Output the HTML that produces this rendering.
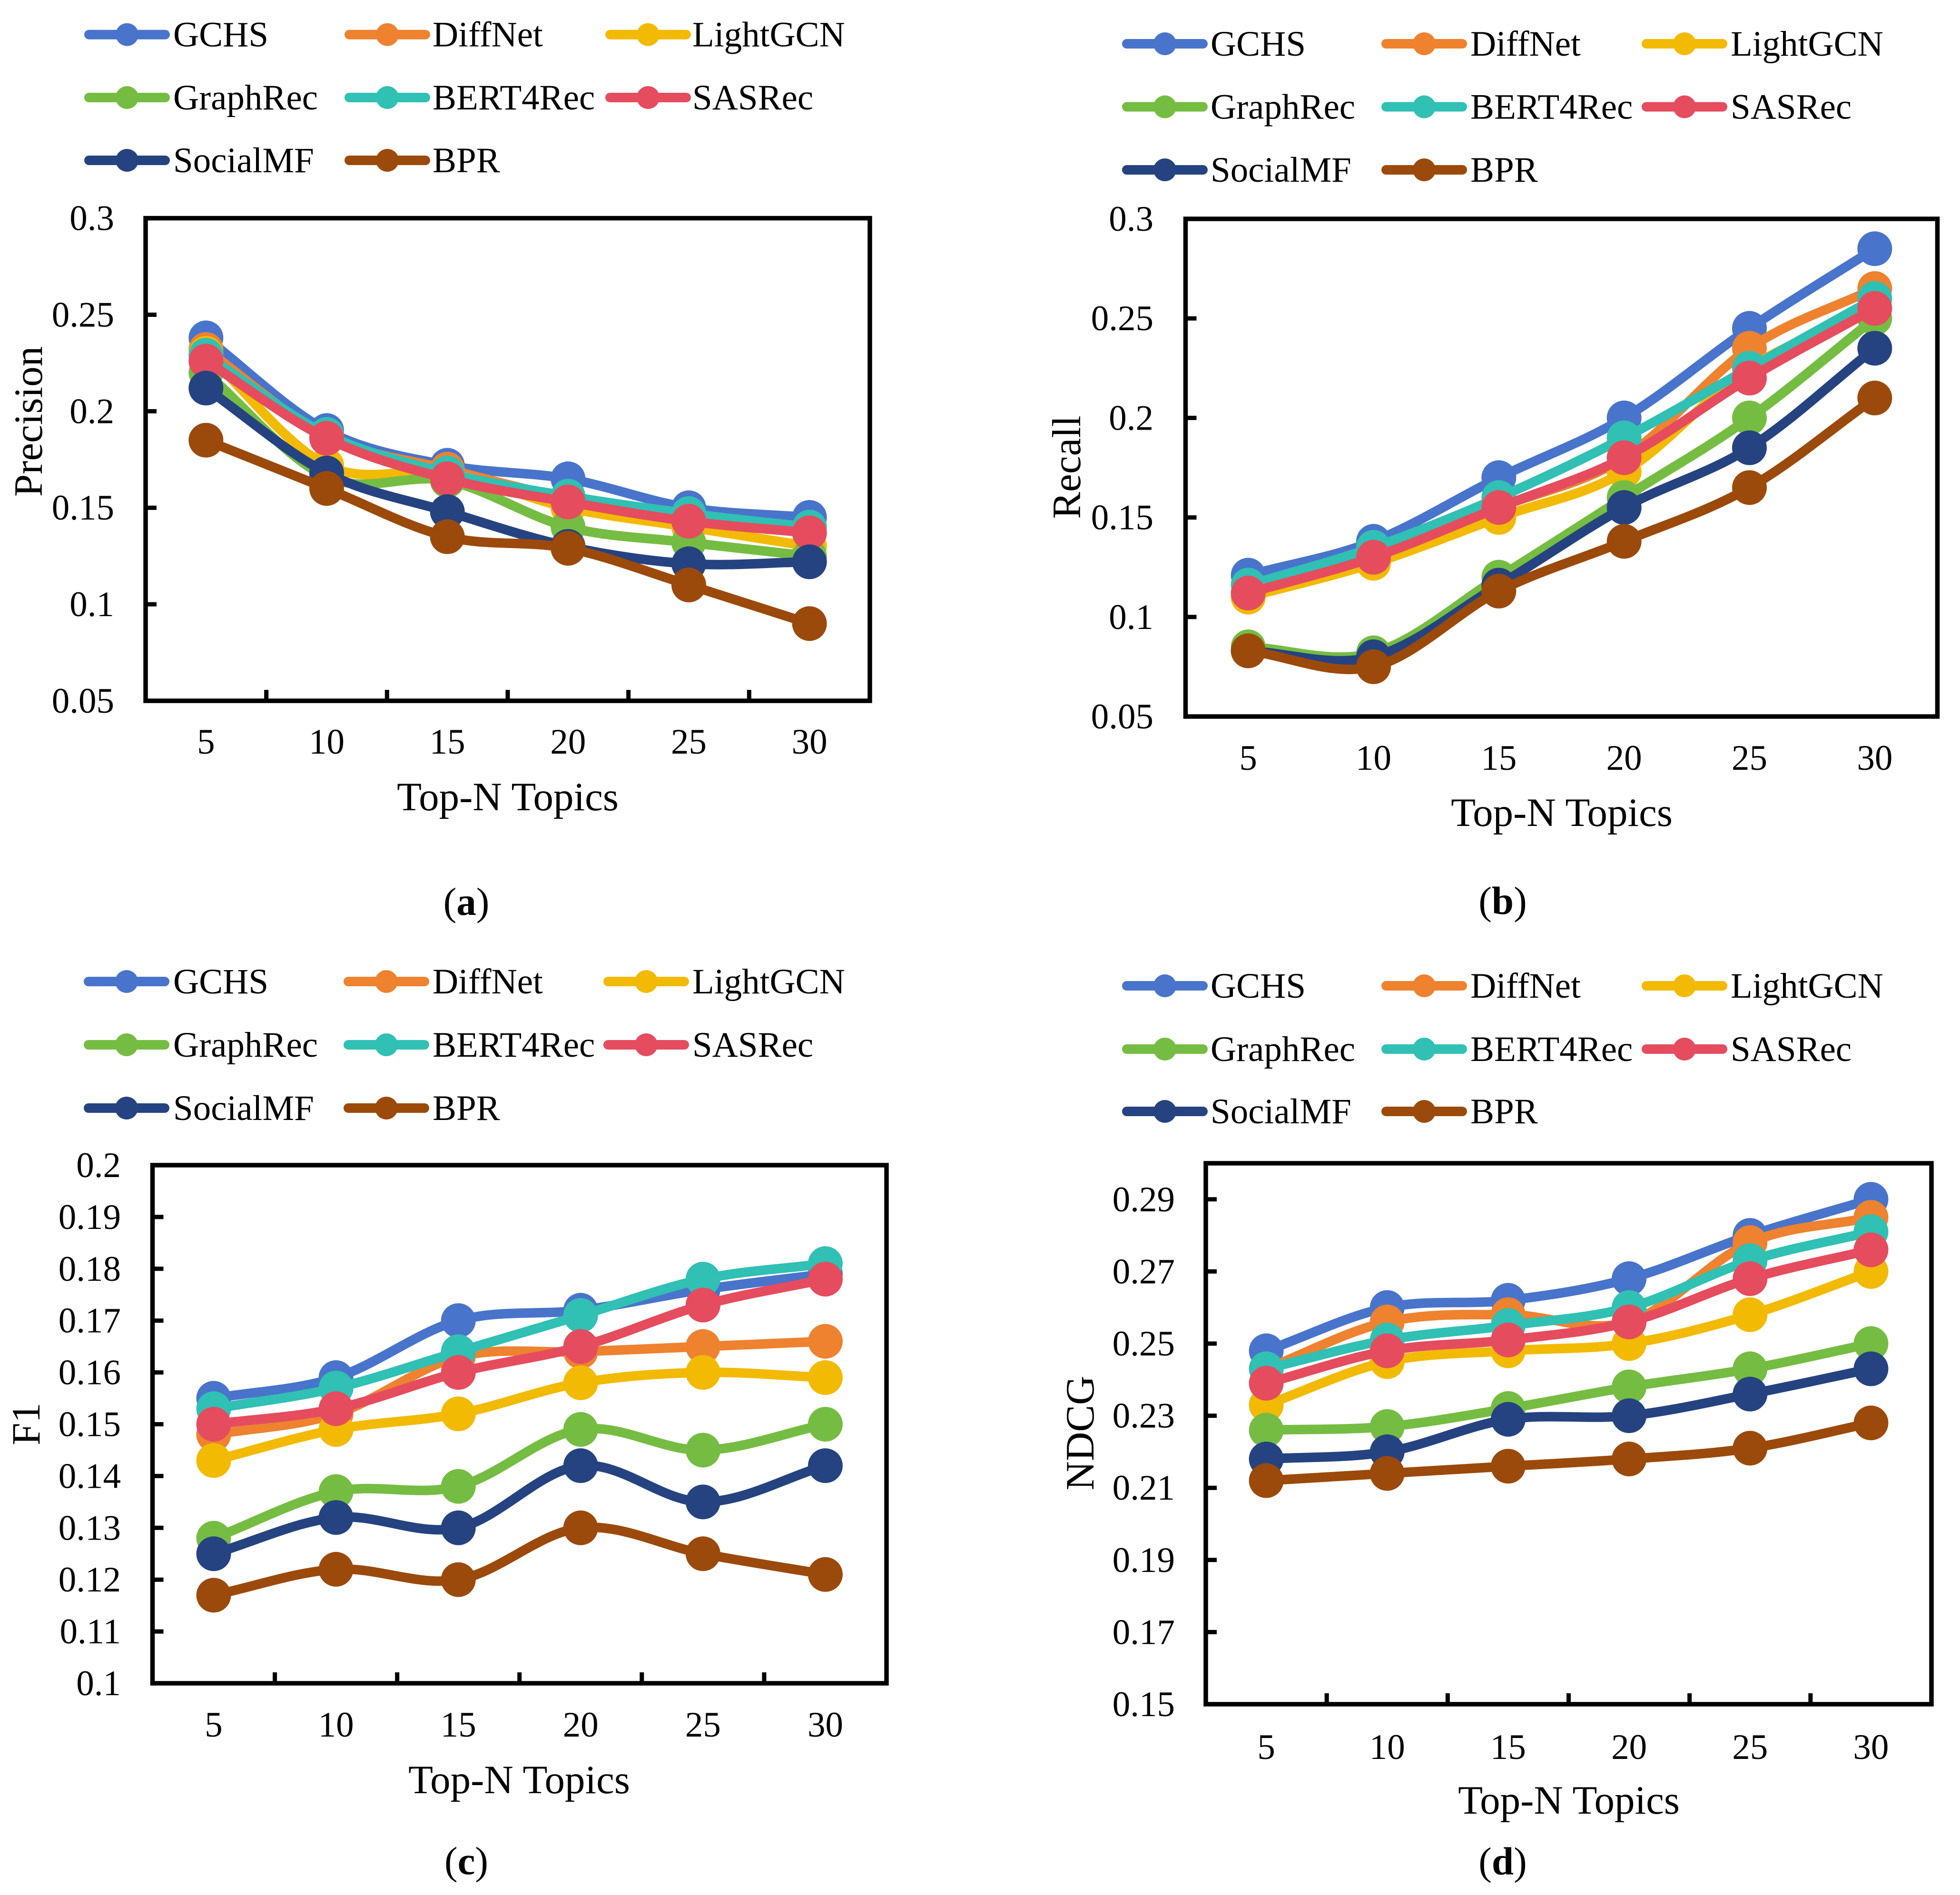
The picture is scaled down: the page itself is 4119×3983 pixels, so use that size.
<!DOCTYPE html>
<html lang="en">
<head>
<meta charset="utf-8">
<title>Top-N Topics metric comparison</title>
<style>
html,body{margin:0;padding:0;background:#fff;}
svg{display:block;font-family:"Liberation Serif","Times New Roman",serif;fill:#000;}
</style>
</head>
<body>
<svg id="figure" xmlns="http://www.w3.org/2000/svg" width="4119" height="3983" viewBox="0 0 4119 3983">
<rect width="4119" height="3983" fill="#fff"/>
<g id="panel-a">
<text x="60" y="886" font-size="85" text-anchor="middle" dominant-baseline="central" transform="rotate(-90 60 886)">Precision</text>
<text x="1067" y="1703" font-size="85" text-anchor="middle">Top-N Topics</text>
<text x="980" y="1923" font-size="83" text-anchor="middle">(<tspan font-weight="bold">a</tspan>)</text>
</g>
<g id="panel-b">
<text x="2242" y="982" font-size="85" text-anchor="middle" dominant-baseline="central" transform="rotate(-90 2242 982)">Recall</text>
<text x="3282" y="1736" font-size="85" text-anchor="middle">Top-N Topics</text>
<text x="3158" y="1921" font-size="83" text-anchor="middle">(<tspan font-weight="bold">b</tspan>)</text>
</g>
<g id="panel-c">
<text x="55" y="2993" font-size="85" text-anchor="middle" dominant-baseline="central" transform="rotate(-90 55 2993)">F1</text>
<text x="1091" y="3769" font-size="85" text-anchor="middle">Top-N Topics</text>
<text x="980" y="3939" font-size="83" text-anchor="middle">(<tspan font-weight="bold">c</tspan>)</text>
</g>
<g id="panel-d">
<text x="2270" y="3012" font-size="85" text-anchor="middle" dominant-baseline="central" transform="rotate(-90 2270 3012)">NDCG</text>
<text x="3297" y="3812" font-size="85" text-anchor="middle">Top-N Topics</text>
<text x="3158" y="3940" font-size="83" text-anchor="middle">(<tspan font-weight="bold">d</tspan>)</text>
</g>
</svg>
<script>
const categories = ['5', '10', '15', '20', '25', '30'];
const seriesNames = ['GCHS', 'DiffNet', 'LightGCN', 'GraphRec', 'BERT4Rec', 'SASRec', 'SocialMF', 'BPR'];
const seriesColors = ['#4874CB', '#EE822F', '#F2BA02', '#75BD42', '#30C0B4', '#E54C5E', '#254380', '#9B4A0B'];

const precisionGCHS = [0.238, 0.190, 0.172, 0.165, 0.150, 0.145];
const precisionDiffNet = [0.232, 0.187, 0.170, 0.155, 0.146, 0.140];
const precisionLightGCN = [0.230, 0.172, 0.168, 0.150, 0.140, 0.130];
const precisionGraphRec = [0.220, 0.166, 0.164, 0.140, 0.132, 0.125];
const precisionBERT4Rec = [0.229, 0.188, 0.168, 0.156, 0.147, 0.140];
const precisionSASRec = [0.226, 0.186, 0.165, 0.153, 0.143, 0.137];
const precisionSocialMF = [0.212, 0.168, 0.148, 0.130, 0.121, 0.122];
const precisionBPR = [0.185, 0.160, 0.135, 0.129, 0.110, 0.090];

const recallGCHS = [0.121, 0.138, 0.170, 0.200, 0.245, 0.285];
const recallDiffNet = [0.110, 0.130, 0.155, 0.180, 0.235, 0.265];
const recallLightGCN = [0.110, 0.127, 0.150, 0.173, 0.225, 0.255];
const recallGraphRec = [0.085, 0.082, 0.120, 0.160, 0.200, 0.250];
const recallBERT4Rec = [0.116, 0.135, 0.160, 0.190, 0.225, 0.260];
const recallSASRec = [0.112, 0.130, 0.155, 0.180, 0.220, 0.255];
const recallSocialMF = [0.083, 0.080, 0.116, 0.155, 0.185, 0.235];
const recallBPR = [0.083, 0.075, 0.113, 0.138, 0.165, 0.210];

const f1GCHS = [0.155, 0.159, 0.170, 0.172, 0.176, 0.179];
const f1DiffNet = [0.148, 0.152, 0.163, 0.164, 0.165, 0.166];
const f1LightGCN = [0.143, 0.149, 0.152, 0.158, 0.160, 0.159];
const f1GraphRec = [0.128, 0.137, 0.138, 0.149, 0.145, 0.150];
const f1BERT4Rec = [0.153, 0.157, 0.164, 0.171, 0.178, 0.181];
const f1SASRec = [0.150, 0.153, 0.160, 0.165, 0.173, 0.178];
const f1SocialMF = [0.125, 0.132, 0.130, 0.142, 0.135, 0.142];
const f1BPR = [0.117, 0.122, 0.120, 0.130, 0.125, 0.121];

const ndcgGCHS = [0.248, 0.260, 0.262, 0.268, 0.280, 0.290];
const ndcgDiffNet = [0.243, 0.256, 0.258, 0.256, 0.278, 0.285];
const ndcgLightGCN = [0.233, 0.245, 0.248, 0.250, 0.258, 0.270];
const ndcgGraphRec = [0.226, 0.227, 0.232, 0.238, 0.243, 0.250];
const ndcgBERT4Rec = [0.243, 0.251, 0.255, 0.260, 0.273, 0.281];
const ndcgSASRec = [0.239, 0.248, 0.251, 0.256, 0.268, 0.276];
const ndcgSocialMF = [0.218, 0.220, 0.229, 0.230, 0.236, 0.243];
const ndcgBPR = [0.212, 0.214, 0.216, 0.218, 0.221, 0.228];

const precisionTicks = ['0.05', '0.1', '0.15', '0.2', '0.25', '0.3'];
const recallTicks = ['0.05', '0.1', '0.15', '0.2', '0.25', '0.3'];
const f1Ticks = ['0.1', '0.11', '0.12', '0.13', '0.14', '0.15', '0.16', '0.17', '0.18', '0.19', '0.2'];
const ndcgTicks = ['0.15', '0.17', '0.19', '0.21', '0.23', '0.25', '0.27', '0.29'];

const NS = 'http://www.w3.org/2000/svg';

function make(tag, parent) {
  const el = document.createElementNS(NS, tag);
  parent.appendChild(el);
  return el;
}

function dist(a, b) {
  return Math.hypot(a[0] - b[0], a[1] - b[1]);
}

function smoothPath(pts) {
  let d = 'M' + pts[0][0] + ' ' + pts[0][1];
  const last = pts.length - 2;
  for (let i = 0; i <= last; i++) {
    const p0 = pts[Math.max(i - 1, 0)];
    const p1 = pts[i];
    const p2 = pts[i + 1];
    const p3 = pts[Math.min(i + 2, pts.length - 1)];
    const d02 = dist(p0, p2);
    const d12 = dist(p1, p2);
    const d13 = dist(p1, p3);
    let f1;
    let f2;
    if (d02 / 6 < d12 / 2 && d13 / 6 < d12 / 2) {
      f1 = i === 0 ? 1 / 3 : 1 / 6;
      f2 = i === last ? 1 / 3 : 1 / 6;
    } else if (d02 / 6 >= d12 / 2 && d13 / 6 >= d12 / 2) {
      f1 = d12 / 2 / d02;
      f2 = d12 / 2 / d13;
    } else if (d02 / 6 >= d12 / 2) {
      f1 = d12 / 2 / d02;
      f2 = d12 / 2 / d02;
    } else {
      f1 = d12 / 2 / d13;
      f2 = d12 / 2 / d13;
    }
    const c1x = p1[0] + (p2[0] - p0[0]) * f1;
    const c1y = p1[1] + (p2[1] - p0[1]) * f1;
    const c2x = p2[0] - (p3[0] - p1[0]) * f2;
    const c2y = p2[1] - (p3[1] - p1[1]) * f2;
    d += 'C' + c1x + ' ' + c1y + ' ' + c2x + ' ' + c2y + ' ' + p2[0] + ' ' + p2[1];
  }
  return d;
}

function drawPanel(cfg) {
  const root = document.getElementById(cfg.id);
  const box = cfg.box;
  const xScale = function (i) {
    return box.left + (box.right - box.left) * (i + 0.5) / categories.length;
  };
  const yScale = function (v) {
    return box.bottom - (v - cfg.yMin) / (cfg.yMax - cfg.yMin) * (box.bottom - box.top);
  };

  // legend
  seriesNames.forEach(function (name, i) {
    const col = i % 3;
    const row = Math.floor(i / 3);
    const g = make('g', root);
    
    
    const y = cfg.legendRows[row];
    const ln = make('line', g);
    
    
    ln.setAttribute('x1', cfg.legendLineX[col]);
    ln.setAttribute('x2', cfg.legendLineX[col] + 160);
    ln.setAttribute('y1', y);
    ln.setAttribute('y2', y);
    ln.setAttribute('stroke', seriesColors[i]);
    ln.setAttribute('stroke-width', 20);
    ln.setAttribute('stroke-linecap', 'round');
    const dot = make('circle', g);
    
    
    dot.setAttribute('cx', cfg.legendLineX[col] + 80);
    dot.setAttribute('cy', y);
    dot.setAttribute('r', 24);
    dot.setAttribute('fill', seriesColors[i]);
    const t = make('text', g);
    
    
    t.setAttribute('x', cfg.legendTextX[col]);
    t.setAttribute('y', y + 25);
    t.setAttribute('font-size', 75);
    t.textContent = name;
  });

  // y ticks and labels
  cfg.yTicks.forEach(function (label) {
    const y = yScale(parseFloat(label));
    const tick = make('line', root);
    
    
    tick.setAttribute('x1', box.left);
    tick.setAttribute('x2', box.left + 23);
    tick.setAttribute('y1', y);
    tick.setAttribute('y2', y);
    tick.setAttribute('stroke', '#000');
    tick.setAttribute('stroke-width', 9);
    const t = make('text', root);
    
    
    t.setAttribute('x', cfg.yLabelRight);
    t.setAttribute('y', y + 25);
    t.setAttribute('font-size', 75);
    t.setAttribute('text-anchor', 'end');
    t.textContent = label;
  });

  // x ticks and labels
  categories.forEach(function (label, i) {
    if (i > 0 && cfg.showXTicks) {
      const x = box.left + (box.right - box.left) * i / categories.length;
      const tick = make('line', root);
      
      
      tick.setAttribute('x1', x);
      tick.setAttribute('x2', x);
      tick.setAttribute('y1', box.bottom);
      tick.setAttribute('y2', box.bottom - 23);
      tick.setAttribute('stroke', '#000');
      tick.setAttribute('stroke-width', 9);
    }
    const t = make('text', root);
    
    
    t.setAttribute('x', xScale(i));
    t.setAttribute('y', cfg.xLabelY + 25);
    t.setAttribute('font-size', 75);
    t.setAttribute('text-anchor', 'middle');
    t.textContent = label;
  });

  // series
  cfg.series.forEach(function (values, s) {
    const g = make('g', root);
    
    
    const pts = values.map(function (v, i) {
      return [xScale(i), yScale(v)];
    });
    const path = make('path', g);
    
    
    path.setAttribute('d', smoothPath(pts));
    path.setAttribute('fill', 'none');
    path.setAttribute('stroke', seriesColors[s]);
    path.setAttribute('stroke-width', 20);
    path.setAttribute('stroke-linecap', 'round');
    path.setAttribute('stroke-linejoin', 'round');
    pts.forEach(function (p) {
      const c = make('circle', g);
      
      
      c.setAttribute('cx', p[0]);
      c.setAttribute('cy', p[1]);
      c.setAttribute('r', 36.5);
      c.setAttribute('fill', seriesColors[s]);
    });
  });

  // frame
  const frame = make('rect', root);
  
  
  frame.setAttribute('x', box.left);
  frame.setAttribute('y', box.top);
  frame.setAttribute('width', box.right - box.left);
  frame.setAttribute('height', box.bottom - box.top);
  frame.setAttribute('fill', 'none');
  frame.setAttribute('stroke', '#000');
  frame.setAttribute('stroke-width', 9.5);
}

drawPanel({
  id: 'panel-a', yMin: 0.05, yMax: 0.3, yTicks: precisionTicks, showXTicks: true,
  box: { left: 306, right: 1828, top: 458.6, bottom: 1473 },
  yLabelRight: 240, xLabelY: 1559,
  legendRows: [72.7, 205, 337], legendLineX: [187, 734, 1282], legendTextX: [364, 909, 1455],
  series: [precisionGCHS, precisionDiffNet, precisionLightGCN, precisionGraphRec, precisionBERT4Rec, precisionSASRec, precisionSocialMF, precisionBPR]
});
drawPanel({
  id: 'panel-b', yMin: 0.05, yMax: 0.3, yTicks: recallTicks, showXTicks: false,
  box: { left: 2491.5, right: 4071.5, top: 460, bottom: 1506 },
  yLabelRight: 2424, xLabelY: 1593,
  legendRows: [92, 224.5, 357], legendLineX: [2368, 2913, 3460], legendTextX: [2544, 3090, 3637],
  series: [recallGCHS, recallDiffNet, recallLightGCN, recallGraphRec, recallBERT4Rec, recallSASRec, recallSocialMF, recallBPR]
});
drawPanel({
  id: 'panel-c', yMin: 0.1, yMax: 0.2, yTicks: f1Ticks, showXTicks: true,
  box: { left: 320.5, right: 1863, top: 2449, bottom: 3538 },
  yLabelRight: 254, xLabelY: 3625,
  legendRows: [2063, 2196, 2329], legendLineX: [186, 732, 1278], legendTextX: [364, 909, 1455],
  series: [f1GCHS, f1DiffNet, f1LightGCN, f1GraphRec, f1BERT4Rec, f1SASRec, f1SocialMF, f1BPR]
});
drawPanel({
  id: 'panel-d', yMin: 0.15, yMax: 0.3, yTicks: ndcgTicks, showXTicks: true,
  box: { left: 2534, right: 4059, top: 2445, bottom: 3582 },
  yLabelRight: 2469, xLabelY: 3672,
  legendRows: [2072, 2205, 2336], legendLineX: [2368, 2913, 3460], legendTextX: [2544, 3090, 3637],
  series: [ndcgGCHS, ndcgDiffNet, ndcgLightGCN, ndcgGraphRec, ndcgBERT4Rec, ndcgSASRec, ndcgSocialMF, ndcgBPR]
});
</script>
</body>
</html>
